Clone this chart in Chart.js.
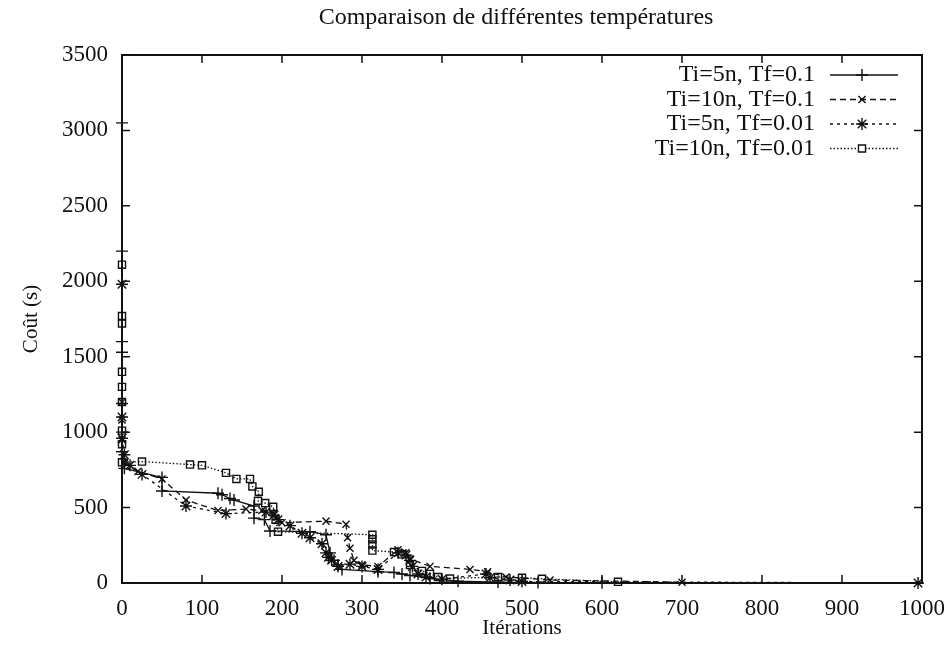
<!DOCTYPE html>
<html>
<head>
<meta charset="utf-8">
<script src="https://cdn.jsdelivr.net/npm/chart.js@4"></script>
<style>
  body { margin: 0; background: #fff; }
  #wrap { width: 950px; height: 656px; }
</style>
</head>
<body>
<div id="wrap"><canvas id="myChart" width="950" height="656"></canvas></div>
<script>
const chartTitle = "Comparaison de différentes températures";
const seriesNames = ["Ti=5n, Tf=0.1", "Ti=10n, Tf=0.1", "Ti=5n, Tf=0.01", "Ti=10n, Tf=0.01"];

// Ti=5n, Tf=0.1
const s1x = [0, 0, 0, 0, 0, 0, 0, 3, 50, 50, 120, 125, 135, 140, 165, 165, 178, 185, 235, 255, 260, 265, 270, 275, 320, 340, 350, 360, 385, 420, 470, 520, 600];
const s1y = [3050, 2200, 1600, 1530, 1190, 1000, 870, 760, 700, 610, 595, 585, 560, 550, 510, 430, 420, 345, 340, 320, 200, 150, 120, 90, 75, 70, 60, 50, 30, 12, 6, 3, 1];

// Ti=10n, Tf=0.1
const s2x = [0, 0, 0, 3, 20, 50, 80, 120, 155, 175, 190, 200, 255, 280, 282, 285, 290, 300, 320, 345, 355, 360, 385, 435, 457, 480, 535, 700];
const s2y = [1200, 1080, 950, 800, 740, 690, 550, 480, 490, 480, 460, 400, 410, 390, 300, 230, 150, 120, 110, 220, 200, 160, 110, 90, 75, 40, 20, 5];

// Ti=5n, Tf=0.01
const s3x = [0, 0, 0, 3, 10, 25, 80, 130, 180, 190, 195, 210, 225, 235, 250, 255, 258, 262, 270, 285, 300, 320, 345, 355, 360, 363, 370, 380, 400, 455, 460, 485, 500, 995];
const s3y = [1980, 1100, 960, 850, 780, 720, 510, 460, 470, 450, 420, 380, 330, 300, 260, 200, 170, 150, 110, 125, 110, 90, 200, 185, 150, 110, 60, 40, 25, 60, 35, 20, 10, 0];

// Ti=10n, Tf=0.01
const s4x = [0, 0, 0, 0, 0, 0, 0, 0, 0, 25, 85, 100, 130, 143, 160, 163, 171, 170, 179, 189, 192, 195, 313, 313, 313, 313, 340, 350, 360, 375, 385, 395, 410, 470, 500, 525, 620];
const s4y = [2110, 1770, 1720, 1400, 1300, 1200, 1010, 920, 800, 805, 785, 780, 730, 690, 690, 640, 605, 545, 530, 505, 420, 340, 320, 290, 255, 215, 205, 190, 120, 80, 60, 40, 30, 40, 35, 28, 8];

const xTicks = [0, 100, 200, 300, 400, 500, 600, 700, 800, 900, 1000];
const yTicks = [0, 500, 1000, 1500, 2000, 2500, 3000, 3500];

function pts(xs, ys) {
  return xs.map((x, i) => ({ x: x, y: ys[i] }));
}

const serif = "'Liberation Serif', 'DejaVu Serif', serif";
const ink = "#111";

const styles = [
  { dash: [], point: "cross", r: 6 },
  { dash: [6, 4], point: "crossRot", r: 5 },
  { dash: [3, 4], point: "star", r: 6 },
  { dash: [1.5, 2], point: "rect", r: 5 }
];

const allX = [s1x, s2x, s3x, s4x];
const allY = [s1y, s2y, s3y, s4y];

const datasets = seriesNames.map((name, i) => ({
  label: name,
  data: pts(allX[i], allY[i]),
  showLine: true,
  clip: false,
  borderColor: ink,
  borderWidth: 1.3,
  borderDash: styles[i].dash,
  pointStyle: styles[i].point,
  pointRadius: styles[i].r,
  pointBorderColor: ink,
  pointBorderWidth: 1.4,
  pointBackgroundColor: "rgba(0,0,0,0)",
  tension: 0
}));

// gnuplot-like frame, inward ticks, title and key
const frame = {
  id: "frame",
  afterDraw(chart) {
    const ctx = chart.ctx;
    const a = chart.chartArea;
    const xs = chart.scales.x, ys = chart.scales.y;
    ctx.save();
    ctx.strokeStyle = ink;
    ctx.lineWidth = 2;
    ctx.setLineDash([]);
    ctx.strokeRect(a.left, a.top, a.right - a.left, a.bottom - a.top);
    ctx.lineWidth = 1.5;
    ctx.beginPath();
    for (const v of xTicks) {
      const px = xs.getPixelForValue(v);
      ctx.moveTo(px, a.bottom); ctx.lineTo(px, a.bottom - 8);
      ctx.moveTo(px, a.top); ctx.lineTo(px, a.top + 8);
    }
    for (const v of yTicks) {
      const py = ys.getPixelForValue(v);
      ctx.moveTo(a.left, py); ctx.lineTo(a.left + 8, py);
      ctx.moveTo(a.right, py); ctx.lineTo(a.right - 8, py);
    }
    ctx.stroke();

    // title
    ctx.fillStyle = ink;
    ctx.font = "24px " + serif;
    ctx.textAlign = "center";
    ctx.textBaseline = "middle";
    ctx.fillText(chartTitle, 516, 18);

    // key
    ctx.font = "24px " + serif;
    ctx.textAlign = "right";
    chart.data.datasets.forEach((ds, i) => {
      const y = 75 + 24.5 * i;
      ctx.fillStyle = ink;
      ctx.fillText(ds.label, 815, y);
      ctx.lineWidth = 1.3;
      ctx.setLineDash(ds.borderDash);
      ctx.beginPath();
      ctx.moveTo(830, y); ctx.lineTo(898, y);
      ctx.stroke();
      ctx.setLineDash([]);
      ctx.fillStyle = "#fff";
      ctx.lineWidth = 1.4;
      Chart.helpers.drawPoint(ctx, {
        pointStyle: ds.pointStyle, radius: ds.pointRadius, borderWidth: 1.4, rotation: 0
      }, 862, y);
    });
    ctx.restore();
  }
};

const ctx = document.getElementById("myChart").getContext("2d");
const myChart = new Chart(ctx, {
  type: "scatter",
  data: { datasets: datasets },
  options: {
    responsive: false,
    animation: false,
    layout: { padding: { right: 28, left: 0, top: 55, bottom: 0 } },
    plugins: {
      legend: { display: false },
      tooltip: { enabled: false },
      title: { display: false }
    },
    scales: {
      x: {
        type: "linear",
        min: 0, max: 1000,
        grid: { display: false },
        border: { display: false },
        afterBuildTicks(scale) { scale.ticks = xTicks.map(v => ({ value: v })); },
        afterFit(scale) { scale.height = 73; },
        ticks: { color: ink, font: { family: serif, size: 23 }, padding: 4, maxRotation: 0, callback: v => String(v) },
        title: { display: true, text: "Itérations", color: ink, font: { family: serif, size: 21 }, padding: { top: 4, bottom: 15 } }
      },
      y: {
        type: "linear",
        min: 0, max: 3500,
        grid: { display: false },
        border: { display: false },
        afterBuildTicks(scale) { scale.ticks = yTicks.map(v => ({ value: v })); },
        afterFit(scale) { scale.width = 122; },
        ticks: { color: ink, font: { family: serif, size: 23 }, padding: 6, callback: v => String(v) },
        title: { display: true, text: "Coût (s)", color: ink, font: { family: serif, size: 21 }, padding: { top: 19, bottom: 0 } }
      }
    }
  },
  plugins: [frame]
});
</script>
</body>
</html>
